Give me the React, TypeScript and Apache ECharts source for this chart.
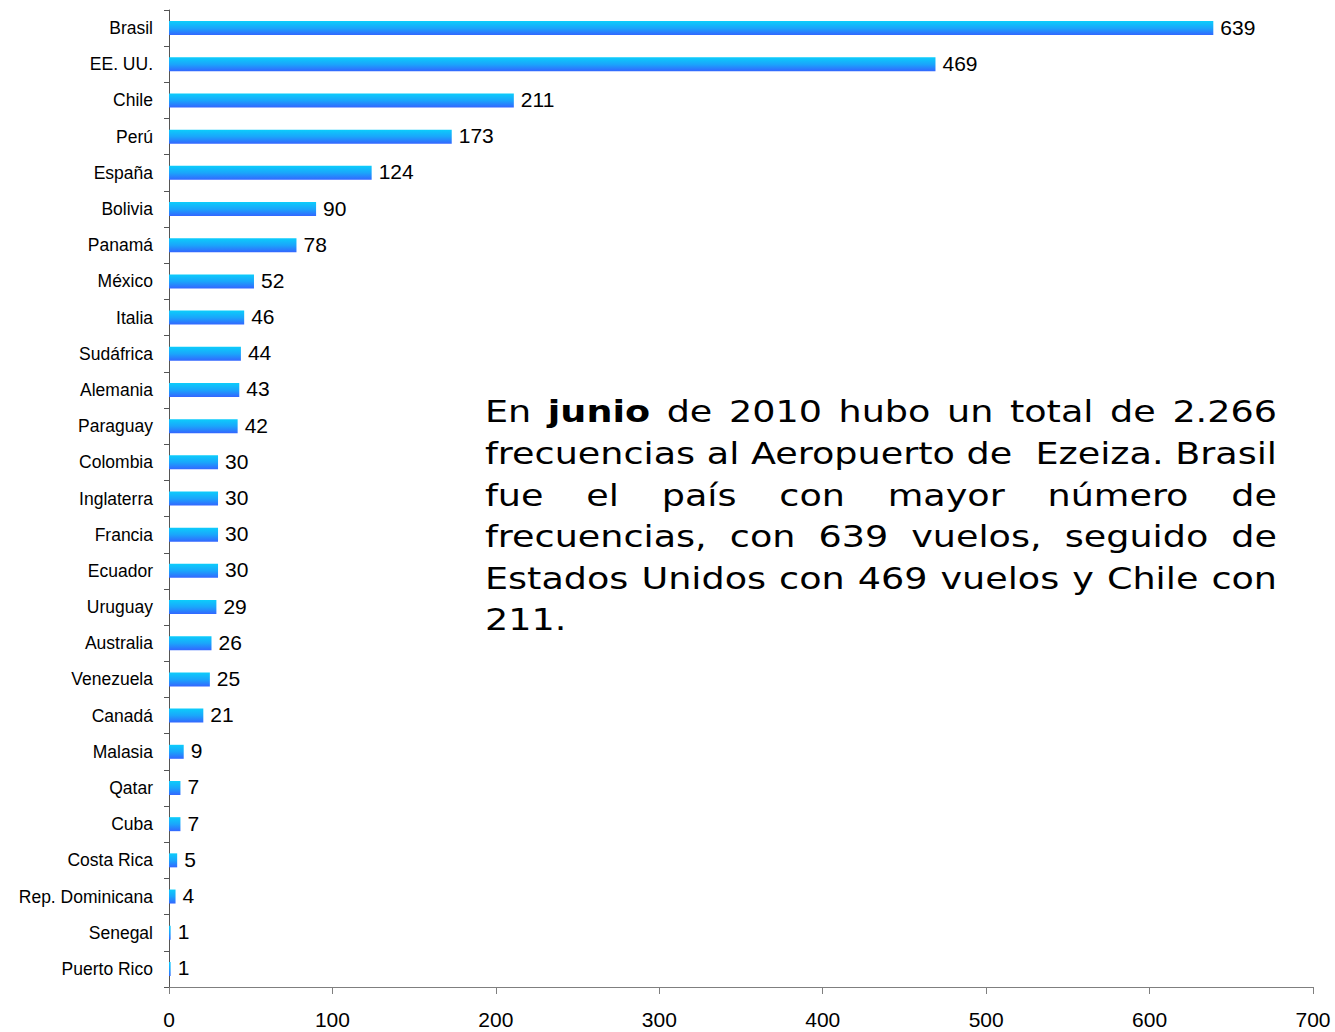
import React, { useEffect, useRef } from "react";
import * as echarts from "echarts";

const categories = [
  "Brasil", "EE. UU.", "Chile", "Perú", "España", "Bolivia", "Panamá", "México", "Italia",
  "Sudáfrica", "Alemania", "Paraguay", "Colombia", "Inglaterra", "Francia", "Ecuador",
  "Uruguay", "Australia", "Venezuela", "Canadá", "Malasia", "Qatar", "Cuba", "Costa Rica",
  "Rep. Dominicana", "Senegal", "Puerto Rico",
];
const values = [639, 469, 211, 173, 124, 90, 78, 52, 46, 44, 43, 42, 30, 30, 30, 30, 29, 26, 25, 21, 9, 7, 7, 5, 4, 1, 1];
const xTicks = [0, 100, 200, 300, 400, 500, 600, 700];

const noteLine1 = ["En", "junio", "de", "2010", "hubo", "un", "total", "de", "2.266"];
const noteLine2 = ["frecuencias", "al", "Aeropuerto", "de", "", "Ezeiza.", "Brasil"];
const noteLine3 = ["fue", "el", "país", "con", "mayor", "número", "de"];
const noteLine4 = ["frecuencias,", "con", "639", "vuelos,", "seguido", "de"];
const noteLine5 = ["Estados", "Unidos", "con", "469", "vuelos", "y", "Chile", "con"];
const noteLine6 = ["211."];
const boldWords = ["junio"];

const NOTE_FONT = '"DejaVu Sans", Verdana, sans-serif';
const NOTE_SIZE = 30;

function buildNote(): any[] {
  const canvas = document.createElement("canvas");
  const ctx = canvas.getContext("2d")!;
  const left = 485;
  const right = 1277;
  const top = 412;
  const lh = 41.6;
  const lines = [noteLine1, noteLine2, noteLine3, noteLine4, noteLine5, noteLine6];
  const measure = (w: string) => {
    const bold = boldWords.includes(w);
    ctx.font = `${bold ? "bold " : ""}${NOTE_SIZE}px ${NOTE_FONT}`;
    return w === "" ? 0 : ctx.measureText(w).width;
  };
  ctx.font = `${NOTE_SIZE}px ${NOTE_FONT}`;
  const space = ctx.measureText(" ").width;
  const natural2 = noteLine2.map(measure).reduce((a, b) => a + b, 0) + space * (noteLine2.length - 1);
  const sx = (right - left) / natural2;
  const out: any[] = [];
  lines.forEach((words, li) => {
    const justify = li < lines.length - 1;
    const widths = words.map((w) => measure(w) * sx);
    const total = widths.reduce((a, b) => a + b, 0);
    const gap = justify && words.length > 1 ? (right - left - total) / (words.length - 1) : space * sx;
    let x = left;
    words.forEach((w, wi) => {
      if (w !== "") {
        out.push({
          type: "text",
          x,
          y: top + li * lh,
          scaleX: sx,
          silent: true,
          style: {
            text: w,
            fill: "#000",
            fontFamily: NOTE_FONT,
            fontSize: NOTE_SIZE,
            fontWeight: boldWords.includes(w) ? "bold" : "normal",
            verticalAlign: "middle",
            align: "left",
          },
        });
      }
      x += widths[wi] + gap;
    });
  });
  return out;
}

export default function App() {
  const ref = useRef<HTMLDivElement>(null);
  useEffect(() => {
    if (!ref.current) return;
    const chart = echarts.init(ref.current, null, { renderer: "svg" });
    const font = '"Liberation Sans", Arial, sans-serif';
    chart.setOption({
      animation: false,
      backgroundColor: "#fff",
      grid: { left: 169, right: 22, top: 10, bottom: 45, containLabel: false },
      xAxis: {
        type: "value",
        min: 0,
        max: 700,
        interval: 100,
        splitLine: { show: false },
        axisLine: { show: true, lineStyle: { color: "#7f7f7f", width: 1 } },
        axisTick: { show: true, inside: false, length: 7, lineStyle: { color: "#7f7f7f" } },
        axisLabel: {
          color: "#000",
          fontSize: 21,
          fontFamily: font,
          margin: 22,
          formatter: (v: number) => (xTicks.includes(v) ? String(v) : ""),
        },
      },
      yAxis: {
        type: "category",
        data: categories,
        inverse: true,
        axisLine: { show: true, lineStyle: { color: "#555", width: 1 } },
        axisTick: { show: true, inside: false, length: 5, alignWithLabel: false, lineStyle: { color: "#555" } },
        axisLabel: { color: "#000", fontSize: 17.5, fontFamily: font, margin: 16 },
      },
      series: [
        {
          type: "bar",
          data: values,
          barWidth: 14,
          itemStyle: {
            color: new echarts.graphic.LinearGradient(0, 0, 0, 1, [
              { offset: 0, color: "#0ccdfb" },
              { offset: 0.5, color: "#1aa6fb" },
              { offset: 1, color: "#3366ff" },
            ]),
          },
          label: {
            show: true,
            position: "right",
            distance: 7,
            offset: [0, -1],
            color: "#000",
            fontSize: 21,
            fontFamily: font,
          },
        },
      ],
      graphic: buildNote(),
    });
    return () => chart.dispose();
  }, []);
  return (
    <div
      ref={ref}
      style={{ position: "fixed", left: 0, top: 0, width: 1335, height: 1032, background: "#fff" }}
    />
  );
}
